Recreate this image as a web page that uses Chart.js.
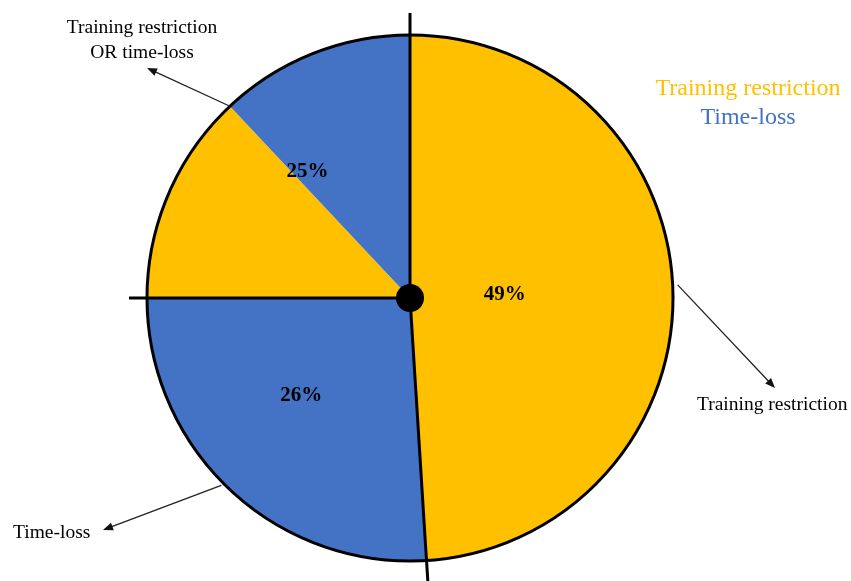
<!DOCTYPE html>
<html>
<head>
<meta charset="utf-8">
<script src="https://cdn.jsdelivr.net/npm/chart.js@4.4.0/dist/chart.umd.min.js"></script>
<style>
  html, body { margin: 0; padding: 0; background: #fff; }
  canvas { display: block; }
</style>
</head>
<body>
<canvas id="pieChart" width="851" height="581"></canvas>
<script>
// groups and their share (%)
var grupos = ['Training restriction', 'Time-loss', 'Training restriction OR time-loss'];
var porcentajes = [49, 26, 25];
// the mixed group is split in two colours (restriction / time-loss)
var mixto = [13, 12];
var amarillo = '#FFC000';
var azul = '#4472C4';

var SERIF = '"Liberation Serif", "Times New Roman", serif';

function punto(cx, cy, r, ang) { return [cx + Math.cos(ang) * r, cy + Math.sin(ang) * r]; }
function mitad(arc) { return (arc.startAngle + arc.endAngle) / 2; }

function flecha(ctx, x1, y1, x2, y2) {
    var a = Math.atan2(y2 - y1, x2 - x1);
    var len = 10, w = 4;
    ctx.strokeStyle = '#222';
    ctx.fillStyle = '#111';
    ctx.lineWidth = 1.3;
    ctx.beginPath();
    ctx.moveTo(x1, y1);
    ctx.lineTo(x2 - Math.cos(a) * len * 0.8, y2 - Math.sin(a) * len * 0.8);
    ctx.stroke();
    ctx.beginPath();
    ctx.moveTo(x2, y2);
    ctx.lineTo(x2 - Math.cos(a) * len - Math.sin(a) * w, y2 - Math.sin(a) * len + Math.cos(a) * w);
    ctx.lineTo(x2 - Math.cos(a) * len + Math.sin(a) * w, y2 - Math.sin(a) * len - Math.cos(a) * w);
    ctx.closePath();
    ctx.fill();
}

var decoracion = {
    id: 'decoracion',
    afterDatasetsDraw: function(chart) {
        var ctx = chart.ctx;
        var arcs = chart.getDatasetMeta(0).data;
        var cx = arcs[0].x, cy = arcs[0].y, r = arcs[0].outerRadius;
        ctx.save();

        // outline
        ctx.lineWidth = 3;
        ctx.strokeStyle = '#000';
        ctx.beginPath();
        ctx.arc(cx, cy, r, 0, Math.PI * 2);
        ctx.stroke();

        // lines between the three groups, running past the rim
        var cortes = [arcs[0].startAngle, arcs[0].endAngle, arcs[1].endAngle];
        var extra = [22, 30, 18];
        for (var i = 0; i < cortes.length; i++) {
            var p = punto(cx, cy, r + extra[i], cortes[i]);
            ctx.beginPath();
            ctx.moveTo(cx, cy);
            ctx.lineTo(p[0], p[1]);
            ctx.stroke();
        }

        // centre dot
        ctx.fillStyle = '#000';
        ctx.beginPath();
        ctx.arc(cx, cy, 14, 0, Math.PI * 2);
        ctx.fill();

        // percentages
        var etiquetas = [
            { ang: mitad(arcs[0]), r: 0.36 },
            { ang: mitad(arcs[1]) + 5 * Math.PI / 180, r: 0.555 },
            { ang: (arcs[2].startAngle + arcs[3].endAngle) / 2 + 6 * Math.PI / 180, r: 0.62 }
        ];
        ctx.font = 'bold 21px ' + SERIF;
        ctx.textAlign = 'center';
        ctx.textBaseline = 'middle';
        ctx.fillStyle = '#000';
        etiquetas.forEach(function(e, i) {
            var p = punto(cx, cy, r * e.r, e.ang);
            ctx.fillText(porcentajes[i] + '%', p[0], p[1]);
        });

        // callouts
        ctx.font = '19.5px ' + SERIF;
        ctx.textBaseline = 'alphabetic';
        var notas = [
            { desde: arcs[2].endAngle, dr: 0, a: [147, 68] },
            { desde: mitad(arcs[0]) - 1 * Math.PI / 180, dr: 5, a: [775, 388] },
            { desde: mitad(arcs[1]) + 2 * Math.PI / 180, dr: 3, a: [103, 530] }
        ];
        notas.forEach(function(n) {
            var p = punto(cx, cy, r + n.dr, n.desde);
            flecha(ctx, p[0], p[1], n.a[0], n.a[1]);
        });
        ctx.fillStyle = '#000';
        ctx.textAlign = 'center';
        ctx.fillText(grupos[0], 142, 33);
        ctx.fillText('OR time-loss', 142, 58);
        ctx.textAlign = 'left';
        ctx.fillText(grupos[0], 697, 410);
        ctx.fillText(grupos[1], 13, 538);

        // colour key
        ctx.font = '24px ' + SERIF;
        ctx.textAlign = 'center';
        ctx.fillStyle = amarillo;
        ctx.fillText(grupos[0], 748, 95);
        ctx.fillStyle = azul;
        ctx.fillText(grupos[1], 748, 124);

        ctx.restore();
    }
};

var chartDiv = document.getElementById('pieChart');
var myChart = new Chart(chartDiv, {
    type: 'pie',
    data: {
        labels: [grupos[0], grupos[1], grupos[2], grupos[2]],
        datasets: [{
            data: [porcentajes[0], porcentajes[1]].concat(mixto),
            backgroundColor: [amarillo, azul, amarillo, azul],
            borderWidth: 0
        }]
    },
    options: {
        responsive: false,
        animation: false,
        devicePixelRatio: 1,
        layout: { padding: { left: 147, right: 178, top: 35, bottom: 20 } },
        plugins: {
            legend: { display: false },
            tooltip: { enabled: false }
        }
    },
    plugins: [decoracion]
});
</script>
</body>
</html>
